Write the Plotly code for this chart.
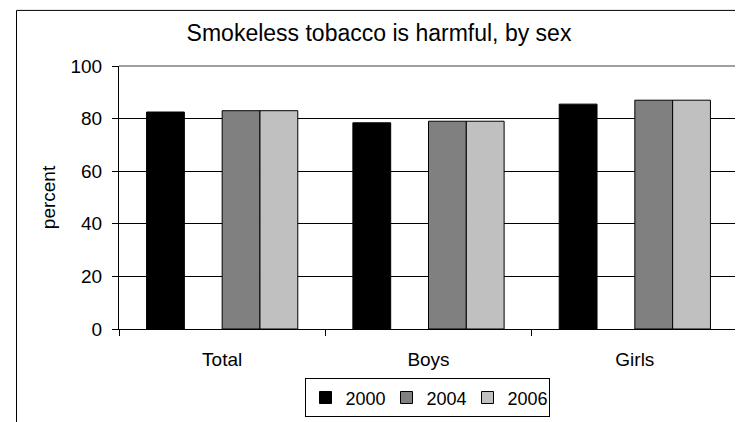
import plotly.graph_objects as go

categories = ["Total", "Boys", "Girls"]
years = ["2000", "2002", "2004", "2006"]
values_2000 = [82.5, 78.4, 85.5]
values_2002 = [None, None, None]
values_2004 = [83.0, 79.0, 87.0]
values_2006 = [83.0, 79.0, 87.0]
colors = ["#000000", "#ffffff", "#808080", "#c0c0c0"]
series = [values_2000, values_2002, values_2004, values_2006]
y_ticks = [0, 20, 40, 60, 80, 100]

FONT = "Liberation Sans, Arial, sans-serif"
OFF = 8  # page body margin
W, H = 743 - OFF, 422 - OFF
L, R, T = 119 - OFF, 5, 66 - OFF
B = H - (338 - OFF)
pw, ph = W - L - R, H - T - B

fig = go.Figure()
for name, vals, col in zip(years, series, colors):
    fig.add_trace(go.Bar(
        x=categories, y=vals, name=name,
        marker=dict(color=col, line=dict(color="#000000", width=1)),
        showlegend=(name != "2002"),
    ))

def px_x(x):
    return (x - OFF - L) / pw

def px_y(y):
    return (H - B - (y - OFF)) / ph

shapes = [
    # outer chart frame
    dict(type="rect", xref="paper", yref="paper",
         x0=px_x(16.5), x1=px_x(770), y0=px_y(450), y1=px_y(8.5),
         line=dict(color="#000000", width=1), fillcolor="rgba(0,0,0,0)", layer="below"),
    # plot area border (top/right gray)
    dict(type="line", xref="paper", yref="paper", x0=0, x1=1, y0=1, y1=1,
         line=dict(color="#808080", width=1.5), layer="above"),
    dict(type="line", xref="paper", yref="paper", x0=1, x1=1, y0=0, y1=1,
         line=dict(color="#808080", width=1.5), layer="above"),
]

fig.update_layout(
    width=W, height=H,
    margin=dict(l=L, r=R, t=T, b=B),
    paper_bgcolor="white", plot_bgcolor="white",
    font=dict(family=FONT, size=19, color="#000000"),
    title=dict(text="Smokeless tobacco is harmful, by sex",
               font=dict(family=FONT, size=23, color="#000000"),
               xref="container", x=(379 - OFF) / W, xanchor="center",
               yref="container", y=1 - (33 - OFF) / H, yanchor="middle"),
    barmode="group", bargap=0.267, bargroupgap=0,
    showlegend=True,
    legend=dict(orientation="h", x=px_x(427), xanchor="center",
                y=px_y(389), yanchor="top",
                bordercolor="#000000", borderwidth=1,
                font=dict(family=FONT, size=18, color="#000000"),
                traceorder="normal", itemwidth=30, entrywidth=36),
    shapes=shapes,
)
fig.update_xaxes(
    type="category", showline=True, linecolor="#000000", linewidth=1,
    ticks="outside", tickson="boundaries", ticklen=6, tickcolor="#000000",
    ticklabelstandoff=13, showgrid=False, zeroline=False,
)
fig.update_yaxes(
    range=[0, 100], tickvals=y_ticks, showline=True, linecolor="#000000", linewidth=1,
    ticks="outside", ticklen=6, tickcolor="#000000", ticklabelstandoff=6,
    showgrid=True, gridcolor="#000000", gridwidth=1, zeroline=False,
    title=dict(text="percent", font=dict(family=FONT, size=19), standoff=9),
)

fig.write_html("out.html")
